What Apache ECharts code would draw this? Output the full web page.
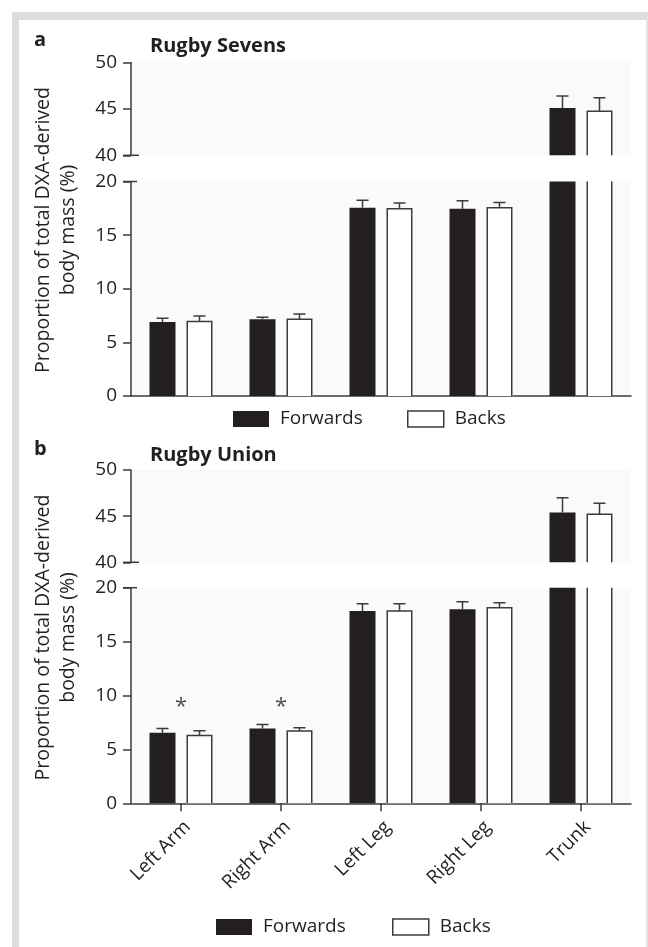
<!DOCTYPE html>
<html><head><meta charset="utf-8">
<script src="https://cdn.jsdelivr.net/npm/echarts@6/dist/echarts.min.js"></script>
<style>
html,body{margin:0;padding:0;background:#fff;}
#wrap{position:relative;width:648px;height:947px;overflow:hidden;background:#fff;}
#frame{position:absolute;left:12px;top:12px;width:627px;height:960px;border-left:7px solid #dcdddf;border-top:8px solid #dcdddf;border-right:2px solid #e3e4e6;}
#chart{position:absolute;left:0;top:0;width:648px;height:947px;}
</style></head><body>
<div id="wrap"><div id="frame"></div><div id="chart"></div></div>
<script>
// ---- data ----
const categories = ['Left Arm', 'Right Arm', 'Left Leg', 'Right Leg', 'Trunk'];
const seriesNames = ['Forwards', 'Backs'];
const sevensForwards = [6.9, 7.15, 17.55, 17.45, 45.1];
const sevensForwardsErr = [0.35, 0.2, 0.7, 0.75, 1.3];
const sevensBacks = [6.95, 7.15, 17.45, 17.55, 44.75];
const sevensBacksErr = [0.5, 0.5, 0.55, 0.5, 1.45];
const unionForwards = [6.55, 6.95, 17.85, 18.0, 45.4];
const unionForwardsErr = [0.4, 0.37, 0.65, 0.7, 1.6];
const unionBacks = [6.3, 6.7, 17.85, 18.15, 45.2];
const unionBacksErr = [0.42, 0.3, 0.65, 0.45, 1.2];
const unionSignificance = ['*', '*', '', '', ''];
const significanceLevel = 9.0;
const lowerRange = [0, 20];
const upperRange = [40, 50];
const tickStep = 5;
const panelTitles = ['Rugby Sevens', 'Rugby Union'];
const panelLetters = ['a', 'b'];
const yAxisTitle = 'Proportion of total DXA-derived\nbody mass (%)';

// ---- style ----
const FONT = 'Open Sans';
const TXT = '#231f20';
const AX = '#3b3b3b';
const BLACK = '#231f20';
const BAR_W = 26;
const BAR_GAP = 11;
const OFF = (BAR_W + BAR_GAP) / 2;
const GRID_W = 500;

const grids = [
  {left: 131, top: 62.5, width: GRID_W, height: 92.8},
  {left: 131, top: 181.5, width: GRID_W, height: 214.5},
  {left: 131, top: 470, width: GRID_W, height: 92.3},
  {left: 131, top: 587.7, width: GRID_W, height: 215.6}
];

const panels = [
  {fw: sevensForwards, fwe: sevensForwardsErr, bk: sevensBacks, bke: sevensBacksErr},
  {fw: unionForwards, fwe: unionForwardsErr, bk: unionBacks, bke: unionBacksErr}
];

const xAxis = grids.map((g, i) => ({
  type: 'category', gridIndex: i, data: categories, boundaryGap: true,
  axisLine: {show: i === 1 || i === 3, lineStyle: {color: AX, width: 1.5}},
  axisTick: {show: i === 3, alignWithLabel: true, length: 8, lineStyle: {color: AX, width: 1.5}},
  axisLabel: {show: i === 3, rotate: 45, margin: 14, verticalAlign: 'top', fontSize: 19, color: TXT, fontFamily: FONT},
  splitLine: {show: false}
}));

const yAxis = grids.map((g, i) => {
  const r = i % 2 === 0 ? upperRange : lowerRange;
  return {
    type: 'value', gridIndex: i, position: 'left', min: r[0], max: r[1], interval: tickStep,
    axisLine: {show: true, lineStyle: {color: AX, width: 1.5}},
    axisTick: {show: true, length: 8, lineStyle: {color: AX, width: 1.5}},
    axisLabel: {show: true, fontSize: 19, color: TXT, fontFamily: FONT, margin: 14},
    splitLine: {show: false}
  };
});

function errSeries(name, vals, errs, offset, outline, gi) {
  return {
    type: 'custom', name: name, xAxisIndex: gi, yAxisIndex: gi, clip: true, z: 4,
    data: vals.map((v, i) => [i, v, errs[i]]),
    renderItem: function (params, api) {
      const i = api.value(0), v = api.value(1), e = api.value(2);
      const c = api.coord([i, v]);
      const t = api.coord([i, v + e]);
      const b = api.coord([i, 0]);
      const x = c[0] + offset;
      const ch = [];
      if (outline) {
        const hw = BAR_W / 2 - 0.75;
        ch.push({type: 'polyline', shape: {points: [[x - hw, b[1]], [x - hw, c[1]], [x + hw, c[1]], [x + hw, b[1]]]},
          style: {fill: null, stroke: AX, lineWidth: 1.5}});
      }
      ch.push({type: 'line', shape: {x1: x, y1: c[1], x2: x, y2: t[1]}, style: {stroke: AX, lineWidth: 1.5}});
      ch.push({type: 'line', shape: {x1: x - 6, y1: t[1], x2: x + 6, y2: t[1]}, style: {stroke: AX, lineWidth: 1.5}});
      return {type: 'group', children: ch};
    }
  };
}

// axis-break cap: short stroke to the right of the y axis at the broken end
function capSeries(gi) {
  const upper = gi % 2 === 0;
  const capValue = upper ? upperRange[0] : lowerRange[1];
  const len = upper ? 8 : 6;
  return {
    type: 'custom', xAxisIndex: gi, yAxisIndex: gi, clip: false, silent: true, z: 5,
    data: [[0, capValue]],
    renderItem: function (params, api) {
      const y = api.coord([0, api.value(1)])[1];
      const x = params.coordSys.x;
      return {type: 'line', shape: {x1: x - 8, y1: y, x2: x + len, y2: y}, style: {stroke: AX, lineWidth: 1.5}};
    }
  };
}

const series = [];
grids.forEach((g, gi) => {
  const p = panels[Math.floor(gi / 2)];
  series.push({type: 'bar', name: seriesNames[0], xAxisIndex: gi, yAxisIndex: gi, data: p.fw,
    barWidth: BAR_W, barGap: (BAR_GAP / BAR_W * 100) + '%', clip: true,
    itemStyle: {color: BLACK}});
  series.push({type: 'bar', name: seriesNames[1], xAxisIndex: gi, yAxisIndex: gi, data: p.bk,
    barWidth: BAR_W, barGap: (BAR_GAP / BAR_W * 100) + '%', clip: true,
    itemStyle: {color: '#ffffff'}});
  series.push(errSeries(seriesNames[0], p.fw, p.fwe, -OFF, false, gi));
  series.push(errSeries(seriesNames[1], p.bk, p.bke, OFF, true, gi));
  series.push(capSeries(gi));
});
series.push({
  type: 'scatter', xAxisIndex: 3, yAxisIndex: 3, symbolSize: 0, silent: true,
  data: unionSignificance.map((s, i) => [i, significanceLevel, s]).filter(d => d[2] !== ''),
  label: {show: true, position: 'inside', formatter: p => p.value[2], fontSize: 22, color: TXT, fontFamily: FONT}
});

const legendCommon = {
  orient: 'horizontal', itemWidth: 36, itemHeight: 16, selectedMode: false, icon: 'rect', padding: 0,
  textStyle: {fontSize: 19, color: TXT, fontFamily: FONT, padding: [0, 0, 0, 6]}
};
const backsLegendItem = {name: seriesNames[1], itemStyle: {color: '#ffffff', borderColor: AX, borderWidth: 1.5}};
const legend = [
  Object.assign({}, legendCommon, {data: [seriesNames[0]], left: 233, top: 409.5}),
  Object.assign({}, legendCommon, {data: [backsLegendItem], left: 407, top: 409.5}),
  Object.assign({}, legendCommon, {data: [seriesNames[0]], left: 216, top: 917.5}),
  Object.assign({}, legendCommon, {data: [backsLegendItem], left: 392, top: 917.5})
];

const title = [];
[0, 1].forEach(k => {
  const dy = k * 409;
  title.push({text: panelLetters[k], left: 34, top: 30 + dy, padding: 0,
    textStyle: {fontSize: 20, fontWeight: 'bold', color: TXT, fontFamily: FONT, lineHeight: 20}});
  title.push({text: panelTitles[k], left: 150, top: 36 + dy, padding: 0,
    textStyle: {fontSize: 20, fontWeight: 'bold', color: TXT, fontFamily: FONT, lineHeight: 20}});
});

const graphic = [0, 1].map(k => ({
  type: 'text', x: 56, y: 230 + k * 407.5, rotation: Math.PI / 2, silent: true,
  style: {text: yAxisTitle, align: 'center', verticalAlign: 'middle', fontSize: 19.5, lineHeight: 25,
    fill: TXT, fontFamily: FONT}
}));

const chart = echarts.init(document.getElementById('chart'), null, {renderer: 'canvas'});
chart.setOption({
  animation: false,
  backgroundColor: 'transparent',
  grid: grids.map(g => Object.assign({show: true, backgroundColor: '#fafafa', borderWidth: 0}, g)),
  xAxis: xAxis, yAxis: yAxis, series: series, legend: legend, title: title, graphic: graphic
});
</script>
</body></html>
